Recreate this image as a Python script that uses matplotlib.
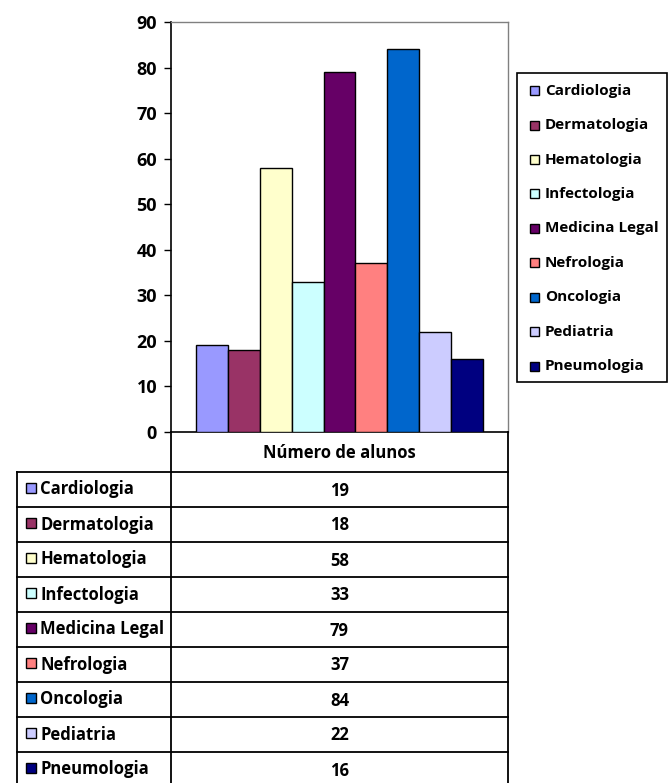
import matplotlib
matplotlib.use("Agg")
import matplotlib.pyplot as plt
from matplotlib.patches import Rectangle

categories = ["Cardiologia", "Dermatologia", "Hematologia", "Infectologia",
              "Medicina Legal", "Nefrologia", "Oncologia", "Pediatria", "Pneumologia"]
values = [19, 18, 58, 33, 79, 37, 84, 22, 16]
colors = ["#9999FF", "#993366", "#FFFFCC", "#CCFFFF", "#660066",
          "#FF8080", "#0066CC", "#CCCCFF", "#000080"]
series_name = "Número de alunos"
yticks = [0, 10, 20, 30, 40, 50, 60, 70, 80, 90]

plt.rcParams['font.family'] = ['Open Sans', 'DejaVu Sans']
plt.rcParams['font.weight'] = 'bold'

W, H = 669, 783
fig = plt.figure(figsize=(W / 100, H / 100), dpi=100)

def fx(px):
    return px / W

def fy(py):
    return 1 - py / H

FS_T = 12
FS_L = 11

# plot area
L, R, T, B = 171, 508, 22, 432
ax = fig.add_axes([fx(L), fy(B), fx(R) - fx(L), fy(T) - fy(B)])
x = list(range(len(values)))
ax.bar(x, values, width=1.0, color=colors, edgecolor="black", linewidth=1.0, zorder=3)
gap = 0.77
ax.set_xlim(-0.5 - gap, len(values) - 0.5 + gap)
ax.set_ylim(0, 90)
ax.set_yticks(yticks)
ax.set_yticklabels([str(t) for t in yticks], fontsize=13, fontweight='bold')
ax.tick_params(axis='y', direction='out', length=5, width=1, pad=5)
ax.set_xticks([])
for s in ['top', 'right']:
    ax.spines[s].set_color('#808080')
    ax.spines[s].set_linewidth(1)
for s in ['left', 'bottom']:
    ax.spines[s].set_color('black')
    ax.spines[s].set_linewidth(1.2)

# overlay in pixel coordinates for table and legend
ov = fig.add_axes([0, 0, 1, 1], zorder=5)
ov.set_xlim(0, W)
ov.set_ylim(H, 0)
ov.axis('off')

lw = 1.3
tleft, tdiv, tright = 17, 171, 508
header_top, header_bot = 432, 472
row_h = 35
n = len(categories)
table_bot = header_bot + row_h * n
ov.plot([tdiv, tdiv], [header_top, table_bot], color='black', lw=lw)
ov.plot([tright, tright], [header_top, table_bot], color='black', lw=lw)
ov.plot([tleft, tleft], [header_bot, table_bot], color='black', lw=lw)
ov.plot([tleft, tright], [header_bot, header_bot], color='black', lw=lw)
ov.text((tdiv + tright) / 2, (header_top + header_bot) / 2 + 1, series_name,
        ha='center', va='center', fontsize=FS_T, fontweight='bold')
for i, (cat, val, c) in enumerate(zip(categories, values, colors)):
    top = header_bot + i * row_h
    bot = top + row_h
    ov.plot([tleft, tright], [bot, bot], color='black', lw=lw)
    cy = (top + bot) / 2
    ov.add_patch(Rectangle((26, cy - 7), 10, 10, facecolor=c, edgecolor='black', lw=1))
    ov.text(40, cy, cat, ha='left', va='center', fontsize=FS_T, fontweight='bold')
    ov.text((tdiv + tright) / 2, cy + 1, str(val), ha='center', va='center',
            fontsize=FS_T, fontweight='bold')

# legend
lg_l, lg_t, lg_r, lg_b = 517, 73, 667, 382
ov.add_patch(Rectangle((lg_l, lg_t), lg_r - lg_l, lg_b - lg_t, facecolor='white',
                       edgecolor='black', lw=1.2))
spacing = (366 - 90.7) / (n - 1)
for i, (cat, c) in enumerate(zip(categories, colors)):
    cy = 90.7 + i * spacing
    ov.add_patch(Rectangle((530, cy - 4.5), 9, 9, facecolor=c, edgecolor='black', lw=1))
    ov.text(545, cy, cat, ha='left', va='center', fontsize=FS_L, fontweight='bold')

fig.savefig("out.png", dpi=100)
